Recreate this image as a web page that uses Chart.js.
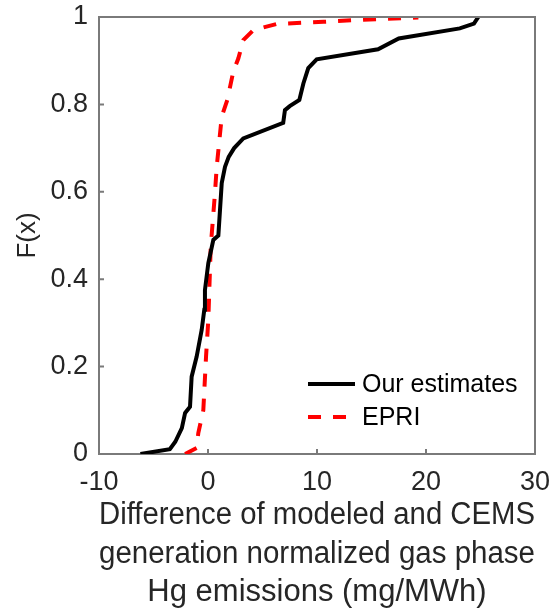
<!DOCTYPE html>
<html>
<head>
<meta charset="utf-8">
<script src="https://cdn.jsdelivr.net/npm/chart.js@4/dist/chart.umd.min.js"></script>
<style>
  html, body { margin: 0; padding: 0; background: #fff; }
  #wrap { width: 554px; height: 613px; }
</style>
</head>
<body>
<div id="wrap"><canvas id="cdf"></canvas></div>
<script>
// empirical CDF of model - CEMS difference (mg/MWh)
const oursX = [-6.2, -3.5, -3.0, -2.4, -2.1, -1.65, -1.5, -1.04, -0.58, -0.34, -0.28, 0.03, 0.49, 0.95, 1.26, 1.56, 1.9, 2.4, 3.24, 6.9, 7.06, 7.5, 8.38, 8.75, 9.2, 9.97, 15.6, 17.5, 23.1, 24.4, 24.8];
const oursF = [0, 0.011, 0.028, 0.059, 0.094, 0.108, 0.177, 0.223, 0.284, 0.33, 0.375, 0.437, 0.49, 0.5, 0.62, 0.657, 0.68, 0.70, 0.722, 0.758, 0.787, 0.796, 0.81, 0.848, 0.883, 0.903, 0.926, 0.951, 0.974, 0.985, 1.0];

const epriX = [-2.1, -1.04, -0.89, -0.43, -0.18, 0.03, 0.25, 0.64, 0.8, 1.26, 1.77, 2.32, 2.78, 3.24, 4.16, 6.3, 10.6, 13.6, 19.3];
const epriF = [0, 0.014, 0.048, 0.1, 0.223, 0.307, 0.474, 0.597, 0.657, 0.772, 0.81, 0.875, 0.905, 0.947, 0.97, 0.984, 0.989, 0.993, 0.999];

const seriesNames = ['Our estimates', 'EPRI'];
const xTicks = [-10, 0, 10, 20, 30];
const yTicks = [0, 0.2, 0.4, 0.6, 0.8, 1];
const xTitle = ['Difference of modeled and CEMS', 'generation normalized gas phase', 'Hg emissions (mg/MWh)'];
const yTitle = 'F(x)';

const textColor = '#262626';
const frameColor = '#7a7a7a';
const fontFamily = 'Arial, "Liberation Sans", sans-serif';

function toPoints(xs, ys) {
  return xs.map((x, i) => ({ x: x, y: ys[i] }));
}

// top and right edges of the box plus inward tick marks
function drawFrame(chart) {
  const ctx = chart.ctx;
  const a = chart.chartArea;
  const xs = chart.scales.x;
  const ys = chart.scales.y;
  ctx.save();
  ctx.setLineDash([]);
  ctx.strokeStyle = frameColor;
  ctx.lineWidth = 2;
  ctx.beginPath();
  ctx.moveTo(a.left, a.top);
  ctx.lineTo(a.right, a.top);
  ctx.lineTo(a.right, a.bottom);
  for (const v of xTicks) {
    const px = xs.getPixelForValue(v);
    ctx.moveTo(px, a.bottom);
    ctx.lineTo(px, a.bottom - 5);
  }
  for (const v of yTicks) {
    const py = ys.getPixelForValue(v);
    ctx.moveTo(a.left, py);
    ctx.lineTo(a.left + 5, py);
  }
  ctx.stroke();
  ctx.restore();
}

// legend inside the lower right of the axes, no box
function drawLegend(chart) {
  const ctx = chart.ctx;
  const a = chart.chartArea;
  const x0 = a.right - 227;
  const x1 = a.right - 180;
  let y = a.bottom - 70;
  ctx.save();
  ctx.font = '25px ' + fontFamily;
  ctx.textBaseline = 'middle';
  chart.data.datasets.forEach(ds => {
    ctx.strokeStyle = ds.borderColor;
    ctx.lineWidth = ds.borderWidth;
    ctx.setLineDash(ds.borderDash || []);
    ctx.beginPath();
    ctx.moveTo(x0, y);
    ctx.lineTo(x1, y);
    ctx.stroke();
    ctx.setLineDash([]);
    ctx.fillStyle = '#000';
    ctx.fillText(ds.label, x1 + 7, y + 1);
    y += 33;
  });
  ctx.restore();
}

const overlayPlugin = {
  id: 'overlay',
  afterDraw(chart) {
    drawFrame(chart);
    drawLegend(chart);
  }
};

new Chart(document.getElementById('cdf'), {
  type: 'scatter',
  data: {
    datasets: [
      {
        label: seriesNames[0],
        data: toPoints(oursX, oursF),
        showLine: true,
        borderColor: '#000000',
        borderWidth: 4,
        pointRadius: 0,
        tension: 0,
        fill: false
      },
      {
        label: seriesNames[1],
        data: toPoints(epriX, epriF),
        showLine: true,
        borderColor: '#ff0000',
        borderWidth: 4,
        borderDash: [13, 12],
        pointRadius: 0,
        tension: 0,
        fill: false
      }
    ]
  },
  options: {
    responsive: true,
    maintainAspectRatio: false,
    animation: false,
    layout: { padding: { left: 0, right: 19, top: 17, bottom: 0 } },
    scales: {
      x: {
        type: 'linear',
        min: -10,
        max: 30,
        afterBuildTicks: s => { s.ticks = xTicks.map(v => ({ value: v })); },
        afterFit: s => { s.height = 159; s.paddingLeft = 0; s.paddingRight = 0; },
        grid: { display: false, drawTicks: false },
        border: { display: true, color: frameColor, width: 2 },
        ticks: {
          color: textColor,
          font: { family: fontFamily, size: 27 },
          padding: 12,
          maxRotation: 0
        },
        title: {
          display: true,
          text: xTitle,
          color: textColor,
          font: { family: fontFamily, size: 31, lineHeight: 1.24 },
          padding: { top: 0, bottom: 1 }
        }
      },
      y: {
        type: 'linear',
        min: 0,
        max: 1,
        afterBuildTicks: s => { s.ticks = yTicks.map(v => ({ value: v })); },
        afterFit: s => { s.width = 99; s.paddingTop = 0; s.paddingBottom = 0; },
        grid: { display: false, drawTicks: false },
        border: { display: true, color: frameColor, width: 2 },
        ticks: {
          color: textColor,
          font: { family: fontFamily, size: 27 },
          padding: 11,
          callback: v => String(v)
        },
        title: {
          display: true,
          text: yTitle,
          color: textColor,
          font: { family: fontFamily, size: 26 },
          padding: { top: 12, bottom: 0 }
        }
      }
    },
    plugins: {
      legend: { display: false },
      tooltip: { enabled: false }
    }
  },
  plugins: [overlayPlugin]
});
</script>
</body>
</html>
